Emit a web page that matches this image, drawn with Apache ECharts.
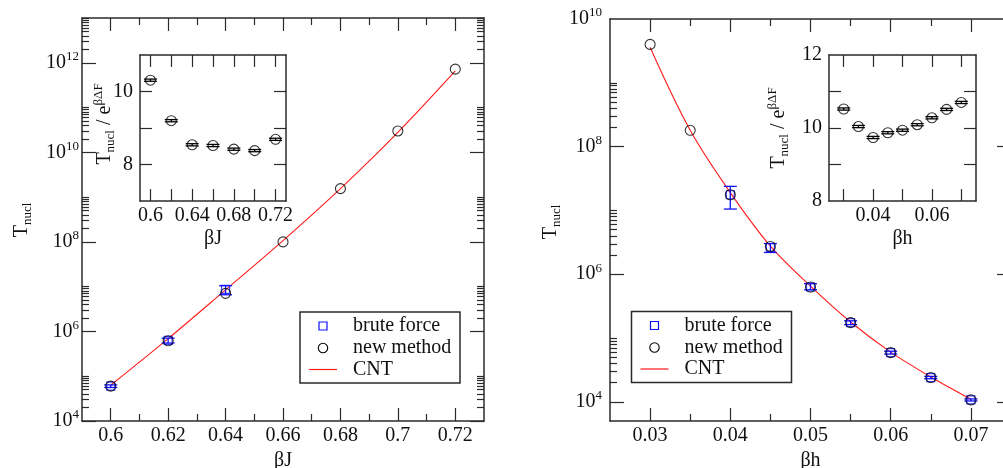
<!DOCTYPE html>
<html><head><meta charset="utf-8">
<script src="https://cdn.jsdelivr.net/npm/echarts@6/dist/echarts.min.js"></script>
<style>html,body{margin:0;padding:0;background:#fff}#c{width:1003px;height:468px}</style>
</head><body><div id="c"></div>
<script>
// ---------- Left panel: T_nucl vs βJ ----------
const xJ      = [0.60, 0.62, 0.64, 0.66, 0.68, 0.70, 0.72];
const newJ    = [6.0e4, 6.2e5, 7.1e6, 1.0e8, 1.55e9, 3.0e10, 7.2e11];
const cntJ    = [6.3e4, 6.9e5, 8.5e6, 1.07e8, 1.55e9, 2.8e10, 6.6e11];
const xBfJ    = [0.60, 0.62, 0.64];
const bfJ     = [6.0e4, 6.3e5, 8.7e6];
const bfJLo   = [5.6e4, 5.5e5, 6.6e6];
const bfJHi   = [6.4e4, 7.1e5, 1.05e7];
const insJ    = [10.31, 9.20, 8.54, 8.52, 8.42, 8.38, 8.69];
const insJErr = [0.03, 0.03, 0.03, 0.03, 0.03, 0.03, 0.03];
const tickJ   = [0.6, 0.62, 0.64, 0.66, 0.68, 0.7, 0.72];
const insTickJ = [0.6, 0.64, 0.68, 0.72];
const expJ    = [4, 6, 8, 10, 12];
const insYJ   = [8, 10];

// ---------- Right panel: T_nucl vs βh ----------
const xH      = [0.030, 0.035, 0.040, 0.045, 0.050, 0.055, 0.060, 0.065, 0.070];
const newH    = [4.0e9, 1.8e8, 1.76e7, 2.72e6, 6.3e5, 1.74e5, 5.9e4, 2.4e4, 1.07e4];
const cntH    = [3.6e9, 1.8e8, 1.9e7, 2.75e6, 6.5e5, 1.78e5, 6.0e4, 2.45e4, 1.1e4];
const xBfH    = [0.040, 0.045, 0.050, 0.055, 0.060, 0.065, 0.070];
const bfH     = [1.76e7, 2.62e6, 6.3e5, 1.74e5, 5.9e4, 2.4e4, 1.07e4];
const bfHLo   = [1.05e7, 2.19e6, 5.7e5, 1.62e5, 5.6e4, 2.3e4, 1.03e4];
const bfHHi   = [2.38e7, 3.02e6, 7.1e5, 1.86e5, 6.2e4, 2.5e4, 1.11e4];
const insH    = [10.52, 10.04, 9.74, 9.87, 9.94, 10.09, 10.28, 10.51, 10.70];
const insHErr = [0.03, 0.03, 0.03, 0.03, 0.03, 0.03, 0.03, 0.03, 0.03];
const tickH   = [0.03, 0.04, 0.05, 0.06, 0.07];
const insTickH = [0.04, 0.06];
const expH    = [4, 6, 8, 10];
const insYH   = [8, 10, 12];

const legendNames = ['brute force', 'new method', 'CNT'];

// ---------- styling ----------
const FONT = 'Liberation Serif';
const FRAME = '#2b2b2b';
const TXT = '#111';
const BLUE = '#1010ff';
const RED = '#ff1a1a';
const L10 = Math.log10;

function range(a, b, step) { const r = []; for (let v = a; v <= b + 1e-9; v += step) r.push(+v.toFixed(4)); return r; }
function logMinor(exps, max) {
  const r = [];
  exps.forEach(n => { for (let k = 2; k <= 10; k++) { const v = n + L10(k); if (v <= max + 1e-9) r.push(v); } });
  return r;
}
const fmtNum = v => String(Math.round(v * 1000) / 1000);
const fmtExp = v => '{b|10}{e|' + Math.round(v) + '}';
const expRich = {
  b: { fontFamily: FONT, fontSize: 20, color: TXT },
  e: { fontFamily: FONT, fontSize: 13, color: TXT, padding: [0, 0, 12, 0] }
};

const xAxes = [], yAxes = [];
function addAxes(list, dim, grid, cfg) {
  const first = dim === 'x' ? 'bottom' : 'left';
  const second = dim === 'x' ? 'top' : 'right';
  const common = { type: 'value', gridIndex: grid, min: cfg.min, max: cfg.max, splitLine: { show: false }, silent: true };
  const line = { show: true, onZero: false, lineStyle: { color: FRAME, width: 1.5 } };
  const tick = (vals, len) => ({ show: true, inside: true, length: len, customValues: vals, lineStyle: { color: FRAME, width: 1.2 } });
  const idx = list.length;
  list.push(Object.assign({}, common, {
    position: first, axisLine: line, axisTick: tick(cfg.major, cfg.majorLen),
    axisLabel: { show: true, customValues: cfg.labels, formatter: cfg.fmt, margin: cfg.margin, color: TXT, fontFamily: FONT, fontSize: 20, rich: cfg.rich },
    name: cfg.name || '', nameLocation: 'middle', nameGap: cfg.nameGap || 20,
    nameTextStyle: { fontFamily: FONT, fontSize: 20, color: TXT }
  }));
  list.push(Object.assign({}, common, { position: second, axisLine: line, axisTick: tick(cfg.major, cfg.majorLen), axisLabel: { show: false } }));
  if (cfg.minor) {
    list.push(Object.assign({}, common, { position: first, axisLine: { show: false }, axisTick: tick(cfg.minor, cfg.minorLen), axisLabel: { show: false } }));
    list.push(Object.assign({}, common, { position: second, axisLine: { show: false }, axisTick: tick(cfg.minor, cfg.minorLen), axisLabel: { show: false } }));
  }
  return idx;
}

const grids = [
  { left: 82, top: 18, width: 402, height: 403, outerBoundsMode: 'none' },
  { left: 140, top: 55, width: 146, height: 146, outerBoundsMode: 'none' },
  { left: 610, top: 19, width: 401, height: 402, outerBoundsMode: 'none' },
  { left: 829, top: 55, width: 147, height: 146, outerBoundsMode: 'none' }
];

// left main
const xL = addAxes(xAxes, 'x', 0, { min: 0.59, max: 0.73, major: range(0.60, 0.72, 0.02), minor: range(0.61, 0.71, 0.02), majorLen: 13, minorLen: 7, labels: tickJ, fmt: fmtNum, margin: 5, name: 'βJ', nameGap: 27 });
const yL = addAxes(yAxes, 'y', 0, { min: 4, max: 13, major: expJ, minor: logMinor(expJ, 13), majorLen: 14, minorLen: 7, labels: expJ, fmt: fmtExp, rich: expRich, margin: 3 });
// left inset
const xLi = addAxes(xAxes, 'x', 1, { min: 0.59, max: 0.73, major: range(0.60, 0.72, 0.02), majorLen: 12, labels: insTickJ, fmt: fmtNum, margin: 5, name: 'βJ', nameGap: 28 });
const yLi = addAxes(yAxes, 'y', 1, { min: 7, max: 11, major: [8, 9, 10], majorLen: 12, labels: insYJ, fmt: fmtNum, margin: 7 });
// right main
const xR = addAxes(xAxes, 'x', 2, { min: 0.025, max: 0.075, major: range(0.03, 0.07, 0.01), minor: range(0.035, 0.065, 0.01), majorLen: 13, minorLen: 7, labels: tickH, fmt: fmtNum, margin: 5, name: 'βh', nameGap: 27 });
const yR = addAxes(yAxes, 'y', 2, { min: L10(5000), max: 10, major: [4, 6, 8], minor: logMinor([4, 6, 8], 10), majorLen: 14, minorLen: 7, labels: expH, fmt: fmtExp, rich: expRich, margin: 8 });
// right inset
const xRi = addAxes(xAxes, 'x', 3, { min: 0.025, max: 0.075, major: range(0.03, 0.07, 0.01), majorLen: 12, labels: insTickH, fmt: fmtNum, margin: 5, name: 'βh', nameGap: 28 });
const yRi = addAxes(yAxes, 'y', 3, { min: 8, max: 12, major: [9, 10, 11], majorLen: 12, labels: insYH, fmt: fmtNum, margin: 7 });

function errRender(color, halfW) {
  return function (params, api) {
    const x = api.value(0), lo = api.value(1), hi = api.value(2);
    const a = api.coord([x, lo]), b = api.coord([x, hi]);
    const st = { stroke: color, lineWidth: 1.3 };
    return { type: 'group', children: [
      { type: 'line', shape: { x1: a[0], y1: a[1], x2: b[0], y2: b[1] }, style: st },
      { type: 'line', shape: { x1: a[0] - halfW, y1: a[1], x2: a[0] + halfW, y2: a[1] }, style: st },
      { type: 'line', shape: { x1: b[0] - halfW, y1: b[1], x2: b[0] + halfW, y2: b[1] }, style: st }
    ] };
  };
}
const circleStyle = { color: 'rgba(0,0,0,0)', borderColor: '#000', borderWidth: 1.1 };
const squareStyle = { color: 'rgba(0,0,0,0)', borderColor: BLUE, borderWidth: 1.2 };

function mainSeries(xi, yi, xs, newV, cntV, xb, bV, bLo, bHi) {
  return [
    { type: 'line', name: 'CNT', xAxisIndex: xi, yAxisIndex: yi, smooth: 0.35, showSymbol: false, symbol: 'none',
      lineStyle: { color: RED, width: 1.1 }, data: xs.map((x, i) => [x, L10(cntV[i])]), z: 2 },
    { type: 'custom', name: 'brute force', xAxisIndex: xi, yAxisIndex: yi, renderItem: errRender(BLUE, 6.5),
      data: xb.map((x, i) => [x, L10(bLo[i]), L10(bHi[i])]), z: 3 },
    { type: 'scatter', name: 'brute force', xAxisIndex: xi, yAxisIndex: yi, symbol: 'rect', symbolSize: 8,
      itemStyle: squareStyle, data: xb.map((x, i) => [x, L10(bV[i])]), z: 4 },
    { type: 'scatter', name: 'new method', xAxisIndex: xi, yAxisIndex: yi, symbol: 'circle', symbolSize: 10,
      itemStyle: circleStyle, data: xs.map((x, i) => [x, L10(newV[i])]), z: 5 }
  ];
}
function insetSeries(xi, yi, xs, v, err) {
  return [
    { type: 'custom', xAxisIndex: xi, yAxisIndex: yi, renderItem: errRender('#000', 6.5),
      data: xs.map((x, i) => [x, v[i] - err[i], v[i] + err[i]]), z: 3 },
    { type: 'scatter', xAxisIndex: xi, yAxisIndex: yi, symbol: 'circle', symbolSize: 10,
      itemStyle: circleStyle, data: xs.map((x, i) => [x, v[i]]), z: 4 }
  ];
}

const series = [].concat(
  mainSeries(xL, yL, xJ, newJ, cntJ, xBfJ, bfJ, bfJLo, bfJHi),
  insetSeries(xLi, yLi, xJ, insJ, insJErr),
  mainSeries(xR, yR, xH, newH, cntH, xBfH, bfH, bfHLo, bfHHi),
  insetSeries(xRi, yRi, xH, insH, insHErr)
);

function legendGraphic(x0, y0) {
  const ts = t => ({ text: t, fontFamily: FONT, fontSize: 20, fill: TXT, align: 'left', verticalAlign: 'middle' });
  return [
    { type: 'rect', z: 20, shape: { x: x0, y: y0, width: 160, height: 71 }, style: { fill: '#fff', stroke: FRAME, lineWidth: 1.5 } },
    { type: 'rect', z: 21, shape: { x: x0 + 19, y: y0 + 10, width: 8, height: 8 }, style: { fill: 'none', stroke: BLUE, lineWidth: 1.2 } },
    { type: 'circle', z: 21, shape: { cx: x0 + 23, cy: y0 + 36, r: 4.7 }, style: { fill: 'none', stroke: '#000', lineWidth: 1.1 } },
    { type: 'line', z: 21, shape: { x1: x0 + 9, y1: y0 + 57.5, x2: x0 + 37, y2: y0 + 57.5 }, style: { stroke: RED, lineWidth: 1.2 } },
    { type: 'text', z: 21, x: x0 + 53, y: y0 + 14, style: ts(legendNames[0]) },
    { type: 'text', z: 21, x: x0 + 53, y: y0 + 36, style: ts(legendNames[1]) },
    { type: 'text', z: 21, x: x0 + 53, y: y0 + 57.5, style: ts(legendNames[2]) }
  ];
}
const titleRich = {
  t: { fontFamily: FONT, fontSize: 20, color: TXT },
  s: { fontFamily: FONT, fontSize: 13, color: TXT, padding: [12, 0, 0, 0] },
  u: { fontFamily: FONT, fontSize: 13, color: TXT, padding: [0, 0, 12, 0] }
};
function yTitle(x, y, text) {
  return { type: 'text', x: x, y: y, rotation: Math.PI / 2, z: 20,
    style: { text: text, rich: titleRich, fontFamily: FONT, fontSize: 20, fill: TXT, align: 'center', verticalAlign: 'middle' } };
}

const graphic = [].concat(
  legendGraphic(300, 312),
  legendGraphic(631.5, 311.5),
  [ yTitle(22, 220, '{t|T}{s|nucl}'),
    yTitle(551, 222, '{t|T}{s|nucl}'),
    yTitle(105, 124, '{t|T}{s|nucl}{t| / e}{u|βΔF}'),
    yTitle(779, 128, '{t|T}{s|nucl}{t| / e}{u|βΔF}') ]
);

const chart = echarts.init(document.getElementById('c'), null, { renderer: 'canvas' });
chart.setOption({
  animation: false,
  backgroundColor: '#fff',
  grid: grids,
  xAxis: xAxes,
  yAxis: yAxes,
  series: series,
  graphic: graphic
});
</script></body></html>
